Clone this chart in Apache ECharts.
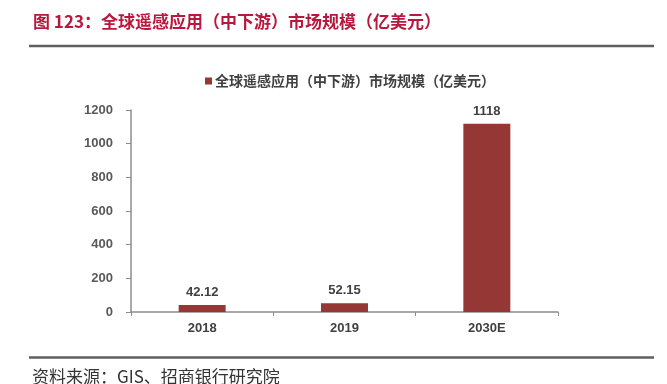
<!DOCTYPE html>
<html><head><meta charset="utf-8">
<script src="https://cdn.jsdelivr.net/npm/echarts@6/dist/echarts.min.js"></script>
<style>html,body{margin:0;padding:0;background:#fff}#c{width:667px;height:384px}</style>
</head><body><div id="c"></div>
<script>
const categories = ['2018', '2019', '2030E'];
const values = [42.12, 52.15, 1118];
const valueLabels = ['42.12', '52.15', '1118'];
const seriesName = '全球遥感应用（中下游）市场规模（亿美元）';
const titleText = '图 123：全球遥感应用（中下游）市场规模（亿美元）';
const sourceText = '资料来源：GIS、招商银行研究院';

const chart = echarts.init(document.getElementById('c'), null, {renderer: 'canvas'});
const fontCJK = '"Noto Sans CJK SC", "Liberation Sans", sans-serif';
const fontNum = '"Liberation Sans", Arial, sans-serif';
chart.setOption({
  animation: false,
  backgroundColor: '#fff',
  textStyle: {fontFamily: fontNum},
  graphic: [
    {type: 'text', left: 33, top: 13, style: {text: titleText, fill: '#B8183D', font: 'bold 17px ' + fontCJK}},
    {type: 'line', shape: {x1: 29, y1: 46, x2: 654, y2: 46}, style: {stroke: '#5f5f5f', lineWidth: 2.5}},
    {type: 'line', shape: {x1: 29, y1: 357.5, x2: 654, y2: 357.5}, style: {stroke: '#5f5f5f', lineWidth: 2.5}},
    {type: 'text', left: 32, top: 368, style: {text: sourceText, fill: '#333', font: '17px ' + fontCJK}}
  ],
  legend: {
    top: 69, left: 200,
    itemWidth: 7, itemHeight: 7, itemGap: 4,
    icon: 'rect',
    textStyle: {color: '#404040', fontWeight: 'bold', fontSize: 14, fontFamily: fontCJK, padding: [0, 0, 0, -2]},
    data: [seriesName]
  },
  grid: {left: 131, right: 109, top: 110, bottom: 72, containLabel: false},
  xAxis: {
    type: 'category', data: categories,
    axisLine: {lineStyle: {color: '#8c8c8c', width: 1.5}},
    axisTick: {show: true, length: 4, lineStyle: {color: '#8c8c8c'}},
    axisLabel: {color: '#404040', fontWeight: 'bold', fontSize: 13, margin: 10, fontFamily: fontNum}
  },
  yAxis: {
    type: 'value', min: 0, max: 1200, interval: 200,
    splitLine: {show: false},
    axisLine: {show: true, lineStyle: {color: '#8c8c8c', width: 1.5}},
    axisTick: {show: true, length: 5, lineStyle: {color: '#8c8c8c'}},
    axisLabel: {color: '#595959', fontWeight: 'bold', fontSize: 13, margin: 18, fontFamily: fontNum,
      formatter: v => String(v)}
  },
  series: [{
    name: seriesName, type: 'bar', data: values, barWidth: '33%',
    itemStyle: {color: '#953735'},
    label: {show: true, position: 'top', distance: 6, color: '#404040', fontWeight: 'bold', fontSize: 13, fontFamily: fontNum,
      formatter: p => valueLabels[p.dataIndex]}
  }]
});
</script></body></html>
